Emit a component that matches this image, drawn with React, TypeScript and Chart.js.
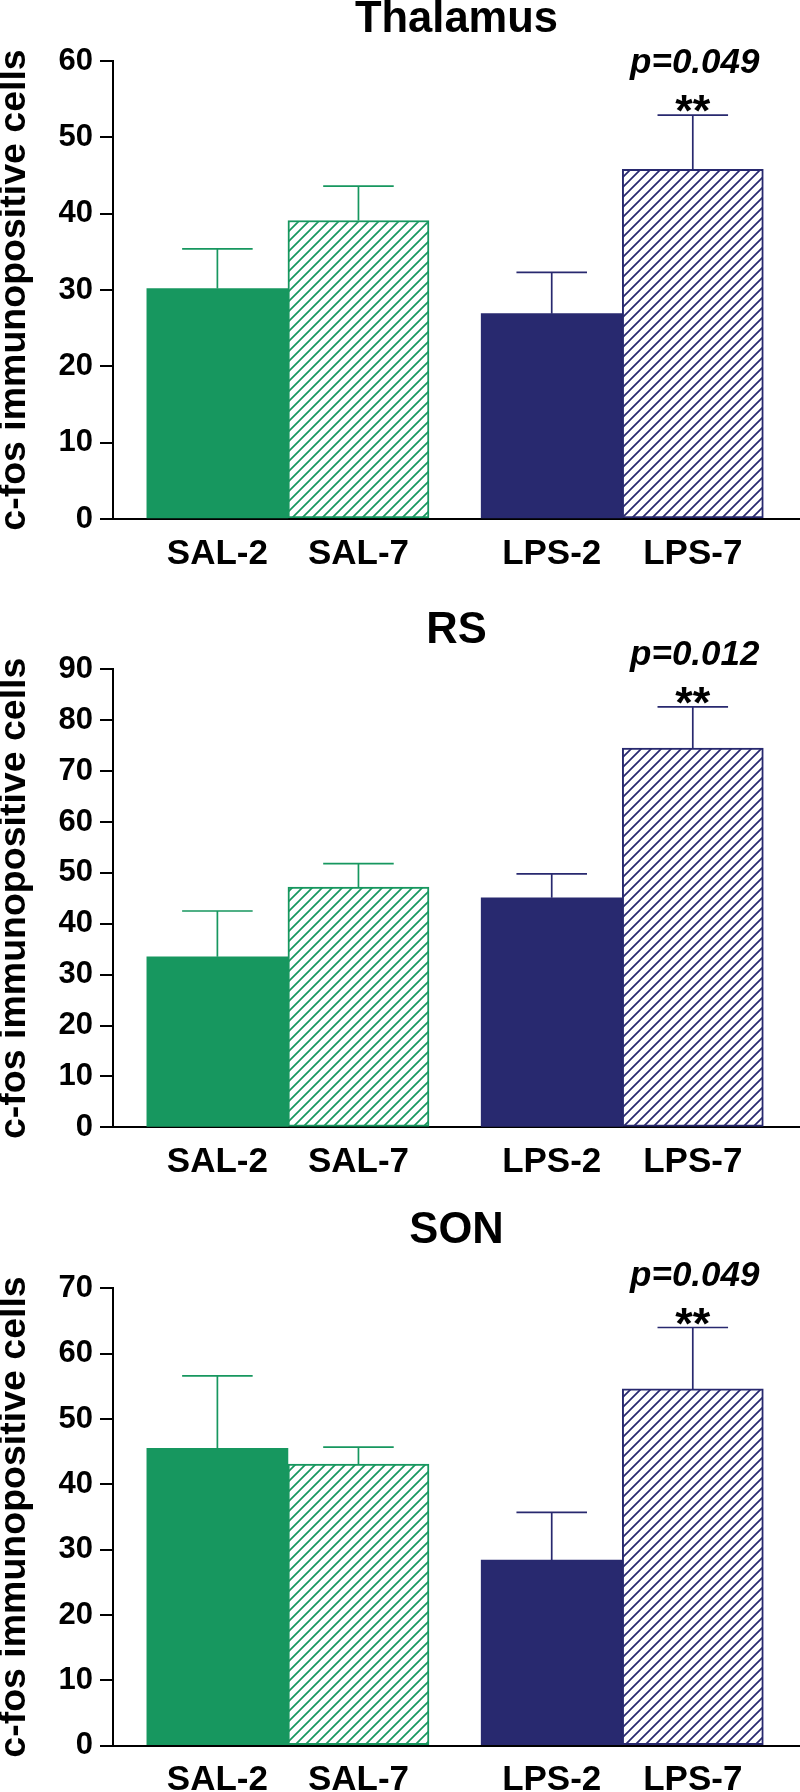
import React, { useEffect, useRef } from 'react';
import { Chart, registerables } from 'chart.js';

Chart.register(...registerables);

// ---------- data ----------
const CATEGORIES = ['SAL-2', 'SAL-7', 'LPS-2', 'LPS-7'];
const PANEL_TITLES = ['Thalamus', 'RS', 'SON'];
const THALAMUS_MEAN = [30.2, 39.1, 26.9, 45.8];
const THALAMUS_SEM = [5.2, 4.5, 5.4, 7.1];
const RS_MEAN = [33.5, 47.2, 45.1, 74.5];
const RS_SEM = [9.0, 4.6, 4.7, 8.1];
const SON_MEAN = [45.5, 43.1, 28.4, 54.6];
const SON_SEM = [11.1, 2.6, 7.3, 9.4];
const Y_MAX = [60, 90, 70];
const Y_STEP = 10;
const P_LABELS = ['p=0.049', 'p=0.012', 'p=0.049'];
const SIG_MARK = '**';
const SIG_INDEX = 3;
const Y_TITLE = 'c-fos immunopositive cells';

// ---------- layout / style ----------
const FONT = "'Liberation Sans', Arial, Helvetica, sans-serif";
const GREEN = '#17975F';
const NAVY = '#28296F';
const GROUP_GAP = 0.37;
const X_MIN = -0.74;
const X_MAX = 4.13;
const Y_AXIS_W = 113;
const X_AXIS_H = 46;
const PANELS = [
  { top: 0, height: 580, areaTop: 61, areaBottom: 519, titleBaseline: 32 },
  { top: 580, height: 600, areaTop: 89.3, areaBottom: 547.3, titleBaseline: 63 },
  { top: 1180, height: 612, areaTop: 108.3, areaBottom: 565.7, titleBaseline: 63 },
];

function makeHatch(color: string) {
  const s = 10;
  const c = document.createElement('canvas');
  c.width = s;
  c.height = s;
  const g = c.getContext('2d')!;
  g.fillStyle = '#ffffff';
  g.fillRect(0, 0, s, s);
  g.strokeStyle = color;
  g.lineWidth = 1.7;
  g.beginPath();
  g.moveTo(0, s);
  g.lineTo(s, 0);
  g.moveTo(-1, 1);
  g.lineTo(1, -1);
  g.moveTo(s - 1, s + 1);
  g.lineTo(s + 1, s - 1);
  g.stroke();
  return g.createPattern(c, 'repeat')!;
}

function Panel({ idx, means, sems }: { idx: number; means: number[]; sems: number[] }) {
  const ref = useRef<HTMLCanvasElement>(null);
  useEffect(() => {
    const cfg = PANELS[idx];
    const canvas = ref.current!;
    const xPos = CATEGORIES.map((_, i) => i + (i >= 2 ? GROUP_GAP : 0));
    const lineColors = [GREEN, GREEN, NAVY, NAVY];
    const fills = [GREEN, makeHatch(GREEN), NAVY, makeHatch(NAVY)];

    const overlay = {
      id: 'overlay',
      afterDatasetsDraw(chart: any) {
        const { ctx, scales } = chart;
        const y = scales.y;
        const meta = chart.getDatasetMeta(0);
        ctx.save();
        meta.data.forEach((bar: any, i: number) => {
          const top = y.getPixelForValue(means[i]);
          const cap = y.getPixelForValue(means[i] + sems[i]);
          const half = bar.width / 4;
          ctx.strokeStyle = lineColors[i];
          ctx.lineWidth = 1.7;
          ctx.beginPath();
          ctx.moveTo(bar.x, top);
          ctx.lineTo(bar.x, cap);
          ctx.moveTo(bar.x - half, cap);
          ctx.lineTo(bar.x + half, cap);
          ctx.stroke();
        });
        // significance annotation
        const sb = meta.data[SIG_INDEX];
        const capS = y.getPixelForValue(means[SIG_INDEX] + sems[SIG_INDEX]);
        ctx.fillStyle = '#000';
        ctx.textAlign = 'center';
        ctx.textBaseline = 'alphabetic';
        ctx.font = `italic bold 35px ${FONT}`;
        ctx.fillText(P_LABELS[idx], sb.x + 2, capS - 42);
        ctx.font = `bold 45px ${FONT}`;
        ctx.fillText(SIG_MARK, sb.x, capS + 11);
        // panel title
        const ca = chart.chartArea;
        ctx.font = `bold 43.5px ${FONT}`;
        ctx.fillText(PANEL_TITLES[idx], (ca.left + ca.right) / 2, cfg.titleBaseline);
        ctx.restore();
      },
    };

    const chart = new Chart(canvas, {
      type: 'bar',
      data: {
        datasets: [
          {
            data: means.map((m, i) => ({ x: xPos[i], y: m })),
            backgroundColor: fills as any,
            borderColor: lineColors,
            borderWidth: [0, 2, 0, 2],
            borderSkipped: false,
            categoryPercentage: 1,
            barPercentage: 1,
          } as any,
        ],
      },
      options: {
        responsive: false,
        animation: false,
        devicePixelRatio: 1,
        events: [],
        layout: {
          padding: {
            top: cfg.areaTop,
            bottom: cfg.height - cfg.areaBottom - X_AXIS_H,
            left: 0,
            right: 0,
          },
        },
        plugins: {
          legend: { display: false },
          tooltip: { enabled: false },
          title: { display: false },
        },
        scales: {
          x: {
            type: 'linear',
            min: X_MIN,
            max: X_MAX,
            offset: false,
            bounds: 'data',
            afterBuildTicks: (s: any) => {
              s.ticks = xPos.map((v) => ({ value: v }));
            },
            afterFit: (s: any) => {
              s.height = X_AXIS_H;
            },
            ticks: {
              autoSkip: false,
              maxRotation: 0,
              minRotation: 0,
              padding: 14,
              color: '#000',
              font: { family: FONT, size: 35, weight: 'bold' },
              callback: (_v: any, i: number) => CATEGORIES[i],
            },
            grid: { display: false, drawTicks: false, offset: false },
            border: { display: true, color: '#000', width: 2 },
          } as any,
          y: {
            type: 'linear',
            min: 0,
            max: Y_MAX[idx],
            afterFit: (s: any) => {
              s.width = Y_AXIS_W;
            },
            ticks: {
              stepSize: Y_STEP,
              padding: 7,
              color: '#000',
              font: { family: FONT, size: 31, weight: 'bold' },
            },
            grid: {
              drawOnChartArea: false,
              drawTicks: true,
              tickLength: 13,
              color: '#000',
              lineWidth: 2,
            },
            border: { display: true, color: '#000', width: 2 },
            title: {
              display: true,
              text: Y_TITLE,
              color: '#000',
              padding: 0,
              font: { family: FONT, size: 37.5, weight: 'bold', lineHeight: 0.8 },
            },
          } as any,
        },
      },
      plugins: [overlay],
    });
    return () => chart.destroy();
  }, [idx, means, sems]);

  const cfg = PANELS[idx];
  return (
    <canvas
      ref={ref}
      width={800}
      height={cfg.height}
      style={{ position: 'absolute', left: 0, top: cfg.top, width: 800, height: cfg.height, display: 'block' }}
    />
  );
}

export default function App() {
  return (
    <div style={{ position: 'absolute', left: 0, top: 0, width: 800, height: 1792, background: '#fff', overflow: 'hidden' }}>
      <Panel idx={0} means={THALAMUS_MEAN} sems={THALAMUS_SEM} />
      <Panel idx={1} means={RS_MEAN} sems={RS_SEM} />
      <Panel idx={2} means={SON_MEAN} sems={SON_SEM} />
    </div>
  );
}
